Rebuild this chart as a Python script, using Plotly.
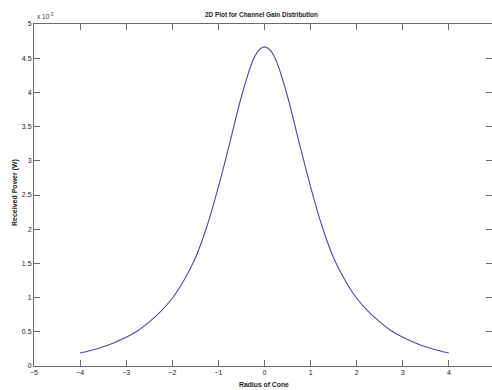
import plotly.graph_objects as go

# Radius of cone (x) and received power in units of 1e-3 W (y)
radius = [-4, -3.75, -3.5, -3.25, -3, -2.75, -2.5, -2.25, -2, -1.75, -1.5, -1.25, -1, -0.75, -0.5, -0.25, -0.125, 0,
          0.125, 0.25, 0.5, 0.75, 1, 1.25, 1.5, 1.75, 2, 2.25, 2.5, 2.75, 3, 3.25, 3.5, 3.75, 4]
power = [0.19, 0.23, 0.28, 0.345, 0.42, 0.515, 0.645, 0.80, 0.99, 1.25, 1.58, 2.04, 2.62, 3.27, 3.94, 4.47, 4.615, 4.665,
         4.615, 4.47, 3.94, 3.27, 2.62, 2.04, 1.58, 1.25, 0.99, 0.80, 0.645, 0.515, 0.42, 0.345, 0.28, 0.23, 0.19]

x_ticks = [-5, -4, -3, -2, -1, 0, 1, 2, 3, 4, 5]
y_ticks = [0, 0.5, 1, 1.5, 2, 2.5, 3, 3.5, 4, 4.5, 5]
y_labels = ["0", "0.5", "1", "1.5", "2", "2.5", "3", "3.5", "4", "4.5", "5"]

FONT = "Liberation Sans Narrow, Liberation Sans, Arial, sans-serif"
AX = "#6a6a6a"

fig = go.Figure()
fig.add_trace(go.Scatter(x=radius, y=power, mode="lines", line=dict(color="#4a4aa8", width=1.1),
                         line_shape="spline", showlegend=False))
fig.add_trace(go.Scatter(x=radius, y=power, mode="lines", line=dict(width=0), yaxis="y2",
                         hoverinfo="skip", showlegend=False))

common = dict(showgrid=False, zeroline=False, ticks="inside", ticklen=6, tickwidth=1,
              tickcolor=AX, linecolor=AX, linewidth=1,
              tickfont=dict(family=FONT, size=7, color="#222"))

fig.update_layout(
    width=492, height=390,
    margin=dict(l=34, r=0, t=24, b=24),
    paper_bgcolor="white", plot_bgcolor="white",
    xaxis=dict(range=[-5, 4.935], tickvals=x_ticks, showline=True, mirror="ticks", **common),
    yaxis=dict(range=[0, 5], tickvals=y_ticks, ticktext=y_labels, showline=True, mirror=False, **common),
    yaxis2=dict(range=[0, 5], tickvals=y_ticks, overlaying="y", side="right", showline=False,
                showticklabels=False, showgrid=False, zeroline=False, ticks="inside", ticklen=6,
                tickwidth=1, tickcolor=AX),
)

plot_h = 390 - 24 - 24
plot_w = 492 - 34
fig.update_layout(annotations=[
    dict(text="<b>2D Plot for Channel Gain Distribution</b>", xref="paper", yref="paper",
         x=(261 - 34) / plot_w, y=1 + 9 / plot_h, yanchor="middle",
         showarrow=False, font=dict(family=FONT, size=6.4, color="#222")),
    dict(text="<b>Radius of Cone</b>", xref="paper", yref="paper",
         x=(264 - 34) / plot_w, y=-18 / plot_h, yanchor="middle",
         showarrow=False, font=dict(family=FONT, size=6.8, color="#222")),
    dict(text="<b>Received Power (W)</b>", textangle=-90, xref="paper", yref="paper",
         x=-19 / plot_w, xanchor="center", y=(366 - 193) / plot_h, yanchor="middle",
         showarrow=False, font=dict(family=FONT, size=7, color="#222")),
    dict(text="x 10<sup>-3</sup>", xref="paper", yref="paper",
         x=1 / plot_w, xanchor="left", y=1 + 8 / plot_h, yanchor="middle",
         showarrow=False, font=dict(family=FONT, size=6.5, color="#333")),
])

fig.write_html("out.html")
